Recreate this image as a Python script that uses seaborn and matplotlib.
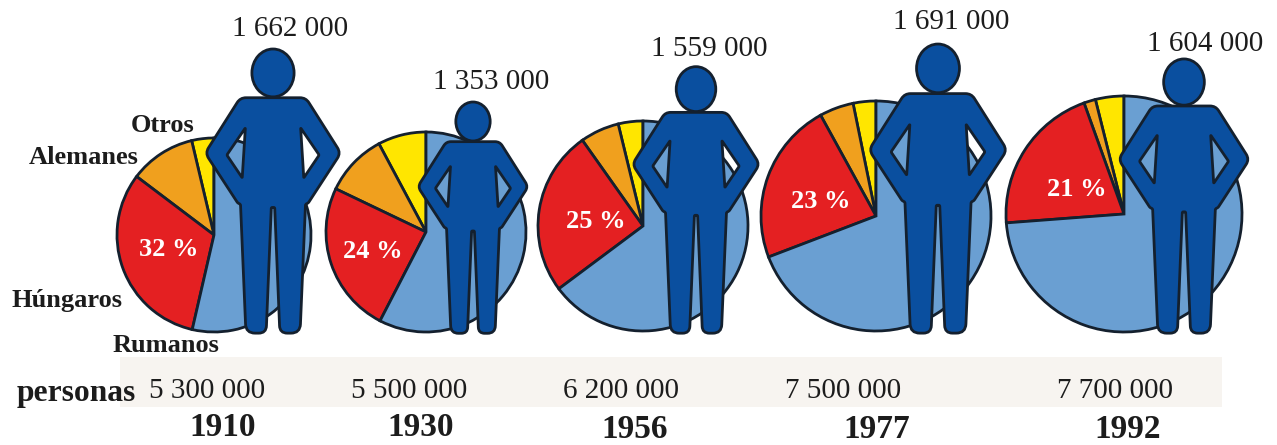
import math
import matplotlib
matplotlib.use("Agg")
import matplotlib.pyplot as plt
from matplotlib.path import Path
from matplotlib.patches import PathPatch, Ellipse, Rectangle
import seaborn as sns

# ---- data ----
years = ["1910", "1930", "1956", "1977", "1992"]
population_labels = ["5 300 000", "5 500 000", "6 200 000", "7 500 000", "7 700 000"]
figure_labels = ["1 662 000", "1 353 000", "1 559 000", "1 691 000", "1 604 000"]
hungarian_count = [1662000, 1353000, 1559000, 1691000, 1604000]
hungarian_labels = ["32 %", "24 %", "25 %", "23 %", "21 %"]
# slice shares as drawn in the source (percent)
otros = [3.7, 7.8, 3.8, 3.2, 3.9]
alemanes = [11.0, 10.1, 6.0, 4.8, 1.6]
hungaros = [31.7, 24.5, 25.4, 22.8, 20.7]
rumanos = [53.6, 57.6, 64.8, 69.2, 73.8]

sns.set_theme(style="white")
plt.rcParams["font.family"] = ["Liberation Serif", "DejaVu Serif"]

pie_colors = sns.color_palette(["#ffe600", "#f0a01e", "#e42022", "#6a9fd2"])
BLUE = "#0a4f9f"
EDGE = "#14202e"
TEXT = "#1c1c1c"

# ---- layout in pixels (y measured from the top) ----
W, H = 1277, 445
pie_cx = [214, 426, 643, 876, 1124]
pie_cy = [235, 232, 226, 216, 214]
pie_r = [97, 100, 105, 115, 118]
fig_cx = [273, 473, 696, 938, 1184]
fig_bottom = 334
px_per_person = 285 / 1662000
count_xy = [(290, 29), (491, 82), (709, 49), (951, 22), (1205, 44)]
pop_x = [207, 409, 621, 843, 1115]
year_x = [223, 421, 635, 877, 1128]
year_y = [427, 427, 429, 430, 429]
share_xy = [(169, 250), (373, 252), (596, 222), (821, 201), (1077, 189)]
names = [("Otros", 163, 125), ("Alemanes", 84, 157), ("Húngaros", 67, 300), ("Rumanos", 166, 346)]

fig = plt.figure(figsize=(W / 100, H / 100), dpi=100, facecolor="white")
ax = fig.add_axes([0, 0, 1, 1])


def Y(py):
    return H - py


ax.add_patch(Rectangle((120, Y(407)), 1102, 50, facecolor="#f7f4f0", edgecolor="none", zorder=0))

# half outline of the standing man: x from axis, y from head top, corner rounding (fractions of height)
HALF = [(0.000, 0.171, 0), (0.115, 0.171, 0.020), (0.238, 0.365, 0.022), (0.124, 0.540, 0.004),
        (0.114, 0.545, 0.004), (0.095, 0.997, 0.032), (0.024, 0.997, 0.026), (0.006, 0.556, 0.004), (0.000, 0.556, 0)]
HOLE = [(0.097, 0.277, 0.003), (0.162, 0.372, 0.004), (0.108, 0.452, 0.003)]


def rounded(points):
    """closed polygon with quadratic corners; returns vertices and path codes"""
    n = len(points)
    verts, codes = [], []
    for i in range(n):
        x, y, r = points[i]
        px, py, _ = points[i - 1]
        nx, ny, _ = points[(i + 1) % n]
        d1 = math.hypot(px - x, py - y)
        d2 = math.hypot(nx - x, ny - y)
        a = (x + (px - x) * min(r / d1, 0.5), y + (py - y) * min(r / d1, 0.5))
        b = (x + (nx - x) * min(r / d2, 0.5), y + (ny - y) * min(r / d2, 0.5))
        verts.append(a)
        codes.append(Path.MOVETO if i == 0 else Path.LINETO)
        verts += [(x, y), b]
        codes += [Path.CURVE3, Path.CURVE3]
    verts.append(verts[0])
    codes.append(Path.CLOSEPOLY)
    return verts, codes


def add_man(cx, height):
    top = fig_bottom - height

    def T(p, sign=1):
        return (cx + sign * p[0] * height, Y(top + p[1] * height), p[2] * height)

    # outer contour runs clockwise; the holes have to run counter-clockwise
    outer = [T(p) for p in HALF] + [T(p, -1) for p in HALF[::-1][1:-1]]
    verts, codes = rounded(outer)
    for sign in (1, -1):
        tri = [T(p, sign) for p in HOLE]
        if sign == 1:
            tri = tri[::-1]
        v, c = rounded(tri)
        verts += v
        codes += c
    ax.add_patch(PathPatch(Path(verts, codes), facecolor=BLUE, edgecolor=EDGE, lw=2.0,
                           joinstyle="round", zorder=4))
    ax.add_patch(Ellipse((cx, Y(top + 0.084 * height)), 0.148 * height, 0.168 * height,
                         facecolor=BLUE, edgecolor=EDGE, lw=2.0, zorder=4))


for i in range(len(years)):
    ax.pie([otros[i], alemanes[i], hungaros[i], rumanos[i]], colors=pie_colors, startangle=90,
           counterclock=True, center=(pie_cx[i], Y(pie_cy[i])), radius=pie_r[i], frame=True,
           wedgeprops=dict(edgecolor=EDGE, linewidth=2.0))
    add_man(fig_cx[i], hungarian_count[i] * px_per_person)
    ax.text(count_xy[i][0], Y(count_xy[i][1]), figure_labels[i], fontsize=21, color=TEXT,
            ha="center", va="center", zorder=6)
    ax.text(pop_x[i], Y(391), population_labels[i], fontsize=21, color=TEXT,
            ha="center", va="center", zorder=6)
    ax.text(year_x[i], Y(year_y[i]), years[i], fontsize=24, fontweight="bold", color=TEXT,
            ha="center", va="center", zorder=6)
    ax.text(share_xy[i][0], Y(share_xy[i][1]), hungarian_labels[i], fontsize=19, fontweight="bold",
            color="white", ha="center", va="center", zorder=6)

for name, x, y in names:
    ax.text(x, Y(y), name, fontsize=19, fontweight="bold", color=TEXT, ha="center", va="center", zorder=6)
ax.text(76, Y(393), "personas", fontsize=22.7, fontweight="bold", color=TEXT, ha="center", va="center", zorder=6)

ax.set_xlim(0, W)
ax.set_ylim(0, H)
ax.set_axis_off()
fig.savefig("out.png", dpi=100, facecolor="white")
